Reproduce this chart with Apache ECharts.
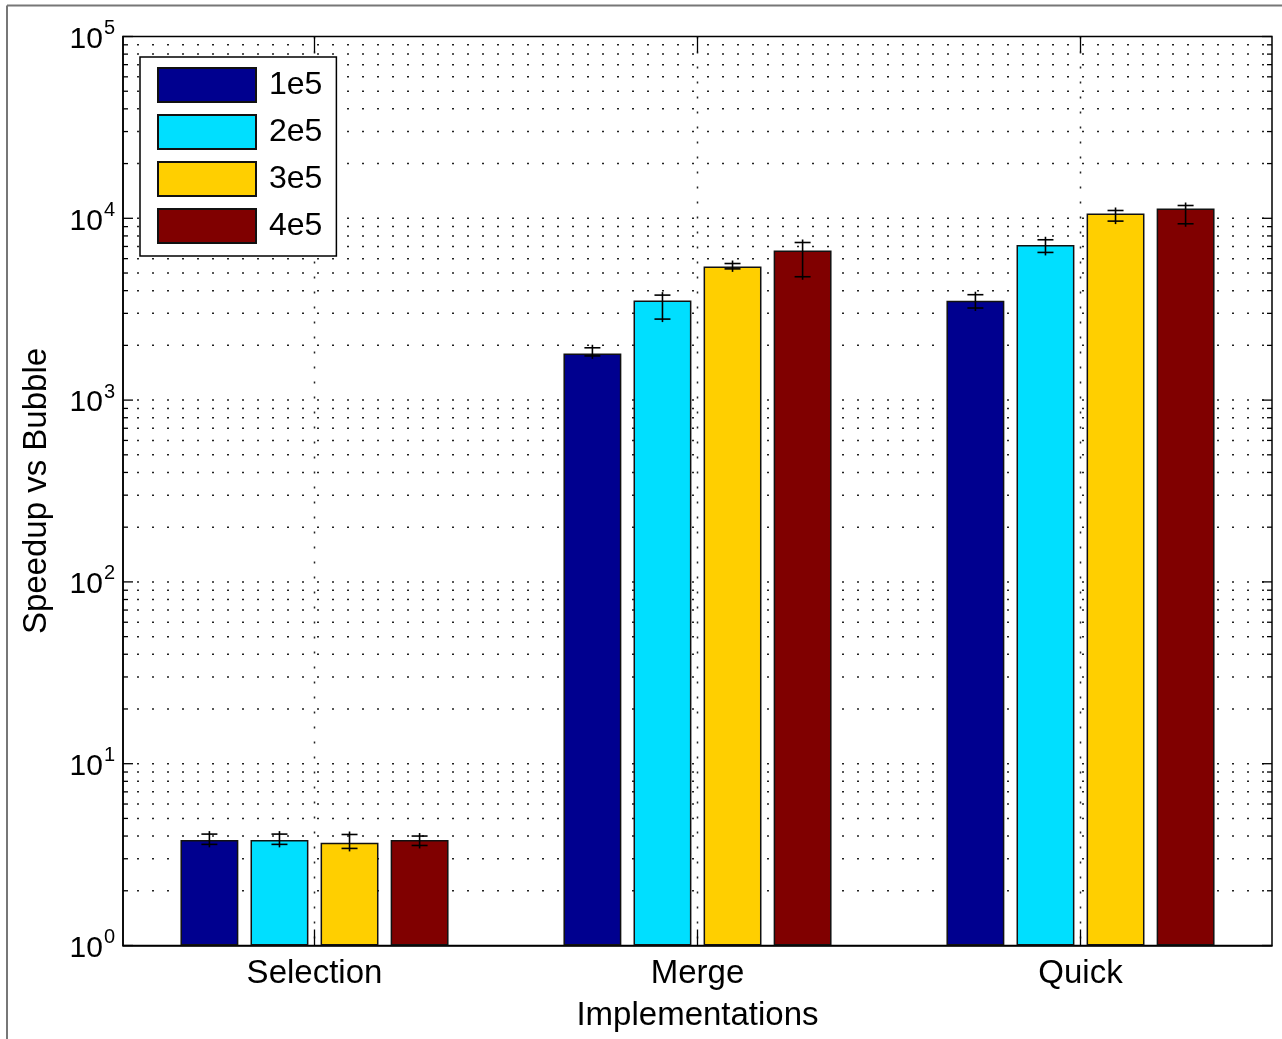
<!DOCTYPE html>
<html>
<head>
<meta charset="utf-8">
<script src="https://cdn.jsdelivr.net/npm/echarts@6/dist/echarts.min.js"></script>
<style>
html,body{margin:0;padding:0;background:#fff;}
#chart{width:1282px;height:1039px;}
</style>
</head>
<body>
<div id="chart"></div>
<script>
// ---- data ----
var categories = ['Selection', 'Merge', 'Quick'];
var seriesNames = ['1e5', '2e5', '3e5', '4e5'];
var colors = ['#00008F', '#00DFFF', '#FFCF00', '#800000'];
// bar heights per series (index follows categories)
var values1e5 = [3.8, 1805, 3520];
var values2e5 = [3.8, 3530, 7130];
var values3e5 = [3.67, 5430, 10620];
var values4e5 = [3.8, 6650, 11320];
// error bar low / high per series
var errLow1e5 = [3.6, 1750, 3210];
var errHigh1e5 = [4.1, 1940, 3800];
var errLow2e5 = [3.6, 2790, 6490];
var errHigh2e5 = [4.1, 3780, 7620];
var errLow3e5 = [3.42, 5270, 9650];
var errHigh3e5 = [4.08, 5640, 11040];
var errLow4e5 = [3.55, 4770, 9330];
var errHigh4e5 = [4.0, 7360, 11760];
var yTickExponents = [0, 1, 2, 3, 4, 5];

var allValues = [values1e5, values2e5, values3e5, values4e5];
var allLow = [errLow1e5, errLow2e5, errLow3e5, errLow4e5];
var allHigh = [errHigh1e5, errHigh2e5, errHigh3e5, errHigh4e5];

var CAT_GAP = 0.30, BAR_GAP = 0.21, N = seriesNames.length;
var FONT = '"Liberation Sans", Arial, Helvetica, sans-serif';

// grid line positions (decades and their 2..9 subdivisions)
var gridValues = [];
for (var e = 0; e < 5; e++) {
  for (var m = 1; m <= 9; m++) gridValues.push([0, m * Math.pow(10, e), m === 1 ? 1 : 0]);
}
gridValues.push([0, 100000, 1]);

var DOT = [2, 13];
var DOT_COLOR = '#222';

var series = [];
// horizontal dotted grid + y ticks
series.push({
  type: 'custom', name: 'hgrid', z: 1, silent: true,
  data: gridValues,
  renderItem: function (params, api) {
    var cs = params.coordSys;
    var y = api.coord([0, api.value(1)])[1];
    var major = api.value(2) === 1;
    var len = major ? 10 : 5;
    var children = [];
    if (y > cs.y + 1 && y < cs.y + cs.height - 1) {
      children.push({type: 'line', shape: {x1: cs.x + 14, y1: y, x2: cs.x + cs.width, y2: y},
        style: {stroke: DOT_COLOR, lineWidth: 1.5, lineDash: DOT}});
    }
    children.push({type: 'line', shape: {x1: cs.x, y1: y, x2: cs.x + len, y2: y}, style: {stroke: '#000', lineWidth: 1.3}});
    children.push({type: 'line', shape: {x1: cs.x + cs.width - len, y1: y, x2: cs.x + cs.width, y2: y}, style: {stroke: '#000', lineWidth: 1.3}});
    return {type: 'group', children: children};
  }
});
// vertical dotted grid + x ticks
series.push({
  type: 'custom', name: 'vgrid', z: 1, silent: true,
  data: categories.map(function (c, i) { return [i, 1]; }),
  renderItem: function (params, api) {
    var cs = params.coordSys;
    var x = api.coord([api.value(0), 1])[0];
    return {type: 'group', children: [
      {type: 'line', shape: {x1: x, y1: cs.y, x2: x, y2: cs.y + cs.height}, style: {stroke: DOT_COLOR, lineWidth: 1.5, lineDash: DOT}},
      {type: 'line', shape: {x1: x, y1: cs.y, x2: x, y2: cs.y + 16}, style: {stroke: '#000', lineWidth: 1.3}},
      {type: 'line', shape: {x1: x, y1: cs.y + cs.height - 16, x2: x, y2: cs.y + cs.height}, style: {stroke: '#000', lineWidth: 1.3}}
    ]};
  }
});
// bars
seriesNames.forEach(function (name, s) {
  series.push({
    type: 'bar', name: name, z: 2,
    data: allValues[s],
    barCategoryGap: (CAT_GAP * 100) + '%',
    barGap: (BAR_GAP * 100) + '%',
    itemStyle: {color: colors[s], borderColor: '#111', borderWidth: 1.5},
    emphasis: {disabled: true}
  });
});
// error bars
seriesNames.forEach(function (name, s) {
  series.push({
    type: 'custom', name: name + ' err', z: 3, silent: true,
    data: categories.map(function (c, i) { return [i, allLow[s][i], allHigh[s][i]]; }),
    renderItem: function (params, api) {
      var cs = params.coordSys;
      var band = cs.width / categories.length;
      var w = band * (1 - CAT_GAP) / (N + (N - 1) * BAR_GAP);
      var total = N * w + (N - 1) * BAR_GAP * w;
      var cx = api.coord([api.value(0), 1])[0] - total / 2 + s * w * (1 + BAR_GAP) + w / 2;
      var yl = api.coord([0, api.value(1)])[1];
      var yh = api.coord([0, api.value(2)])[1];
      var cap = 8;
      var st = {stroke: '#000', lineWidth: 1.6};
      return {type: 'group', children: [
        {type: 'line', shape: {x1: cx, y1: yl + 3, x2: cx, y2: yh - 3}, style: st},
        {type: 'line', shape: {x1: cx - cap, y1: yl, x2: cx + cap, y2: yl}, style: st},
        {type: 'line', shape: {x1: cx - cap, y1: yh, x2: cx + cap, y2: yh}, style: st}
      ]};
    }
  });
});

var chart = echarts.init(document.getElementById('chart'), null, {renderer: 'canvas'});
chart.setOption({
  backgroundColor: '#fff',
  animation: false,
  textStyle: {fontFamily: FONT},
  grid: {left: 123, right: 10, top: 36.5, bottom: 93.5, show: true, borderColor: '#000', borderWidth: 1.5, backgroundColor: 'transparent'},
  legend: {
    data: seriesNames,
    orient: 'vertical',
    left: 140, top: 57,
    backgroundColor: '#fff',
    borderColor: '#000', borderWidth: 1.5,
    padding: [10, 14, 12, 17],
    itemWidth: 98, itemHeight: 34, itemGap: 11,
    icon: 'rect',
    textStyle: {fontSize: 32, lineHeight: 28, color: '#000', fontFamily: FONT, padding: [8, 0, 0, 8]},
    selectedMode: false
  },
  xAxis: [{
    type: 'category', data: categories, position: 'bottom',
    axisLine: {lineStyle: {color: '#000', width: 1.5}},
    axisTick: {show: false},
    axisLabel: {fontSize: 33, color: '#000', margin: 12, fontFamily: FONT},
    splitLine: {show: false},
    name: 'Implementations', nameLocation: 'middle', nameGap: 54,
    nameTextStyle: {fontSize: 33, color: '#000', fontFamily: FONT}
  }],
  yAxis: [{
    type: 'log', logBase: 10, min: 1, max: 100000,
    axisLine: {show: true, lineStyle: {color: '#000', width: 1.5}},
    axisTick: {show: false},
    splitLine: {show: false},
    axisLabel: {
      margin: 8, color: '#000',
      formatter: function (v) {
        var ex = Math.round(Math.log(v) / Math.LN10);
        if (yTickExponents.indexOf(ex) < 0) return '';
        return '{b|10}{s|' + ex + '}';
      },
      rich: {
        b: {fontSize: 30, fontFamily: FONT, color: '#000', lineHeight: 36, verticalAlign: 'bottom'},
        s: {fontSize: 20, fontFamily: FONT, color: '#000', lineHeight: 36, verticalAlign: 'top', padding: [0, 0, 0, 1]}
      }
    },
    name: 'Speedup vs Bubble', nameLocation: 'middle', nameGap: 70, nameRotate: 90,
    nameTextStyle: {fontSize: 33, color: '#000', fontFamily: FONT}
  }],
  graphic: [
    {type: 'line', shape: {x1: 7, y1: 5.5, x2: 1282, y2: 5.5}, style: {stroke: '#777', lineWidth: 2}},
    {type: 'line', shape: {x1: 7, y1: 5.5, x2: 7, y2: 1039}, style: {stroke: '#777', lineWidth: 2}}
  ],
  series: series
});
</script>
</body>
</html>
